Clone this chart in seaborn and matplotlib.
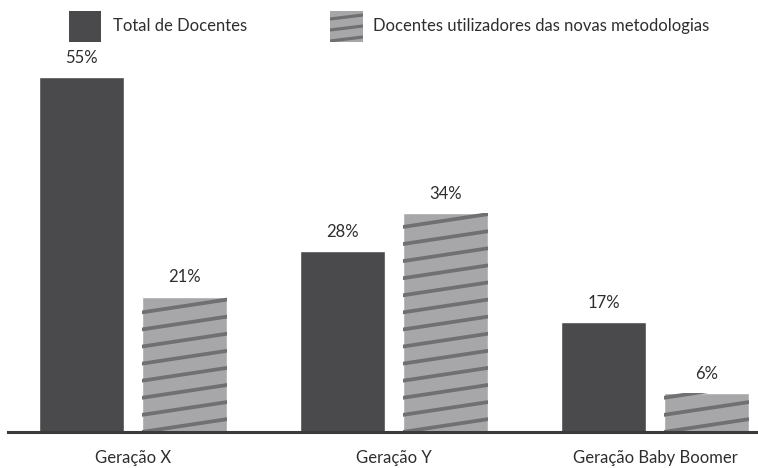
import pandas as pd
import seaborn as sns
import matplotlib.pyplot as plt
from matplotlib.patches import Rectangle
from matplotlib.lines import Line2D
from matplotlib.transforms import Affine2D

geracoes = ["Geração X", "Geração Y", "Geração Baby Boomer"]
series = ["Total de Docentes", "Docentes utilizadores das novas metodologias"]
total_docentes = [55, 28, 17]
docentes_novas = [21, 34, 6]

dark = "#4a4a4c"
light = "#a7a7a9"
stripe = "#707072"
txt = "#2e2e2e"

df = pd.DataFrame({
    "geracao": geracoes * 2,
    "serie": [series[0]] * 3 + [series[1]] * 3,
    "pct": total_docentes + docentes_novas,
})

sns.set_style("white")
plt.rcParams["font.family"] = ["Lato", "DejaVu Sans"]

fig = plt.figure(figsize=(7.58, 4.68), dpi=100)
ax = fig.add_axes([8 / 758, 36 / 468, 750 / 758, 372 / 468])

sns.barplot(data=df, x="geracao", y="pct", hue="serie", hue_order=series,
            palette=[dark, light], width=0.789, gap=0.17, legend=False,
            saturation=1, ax=ax)

ax.set_xlim(-0.479, 2.395)
ax.set_ylim(0, 57.7)

# shallow stripes on the second series, clipped to each bar
slope = 6.1
spacing = 2.65
for bar in ax.containers[1]:
    x0 = bar.get_x()
    x1 = x0 + bar.get_width()
    k = -3
    while k * spacing < bar.get_height() + 1:
        y0 = k * spacing
        ln = Line2D([x0, x1], [y0, y0 + slope * (x1 - x0)], color=stripe,
                    lw=2.7, solid_capstyle="butt")
        ax.add_line(ln)
        ln.set_clip_path(bar)
        k += 1

for cont in ax.containers:
    ax.bar_label(cont, fmt="%d%%", padding=8, fontsize=12, color=txt)

sns.despine(ax=ax, left=True, right=True, top=True)
ax.spines["bottom"].set_color("#3a3a3a")
ax.spines["bottom"].set_linewidth(2.2)
ax.set_yticks([])
ax.set_xlabel("")
ax.set_ylabel("")
ax.tick_params(axis="x", length=0, pad=13, labelsize=12, labelcolor=txt)

# legend drawn in pixel space
px = Affine2D().scale(1 / 100) + fig.dpi_scale_trans
sw1 = Rectangle((69, 426), 32, 31, facecolor=dark, edgecolor="none", transform=px)
fig.add_artist(sw1)
sw2 = Rectangle((330, 426), 33, 31, facecolor=light, edgecolor="none", transform=px)
fig.add_artist(sw2)
for i in range(-1, 4):
    yb = 426 + 1 + i * 11
    ln = Line2D([330, 363], [yb, yb + 4], color=stripe, lw=2.3, transform=px,
                solid_capstyle="butt")
    fig.add_artist(ln)
    ln.set_clip_path(sw2)
fig.text(113 / 758, 1 - 26 / 468, series[0], fontsize=12, color=txt, va="center")
fig.text(373 / 758, 1 - 26 / 468, series[1], fontsize=12, color=txt, va="center")

fig.savefig("out.png", dpi=100)
